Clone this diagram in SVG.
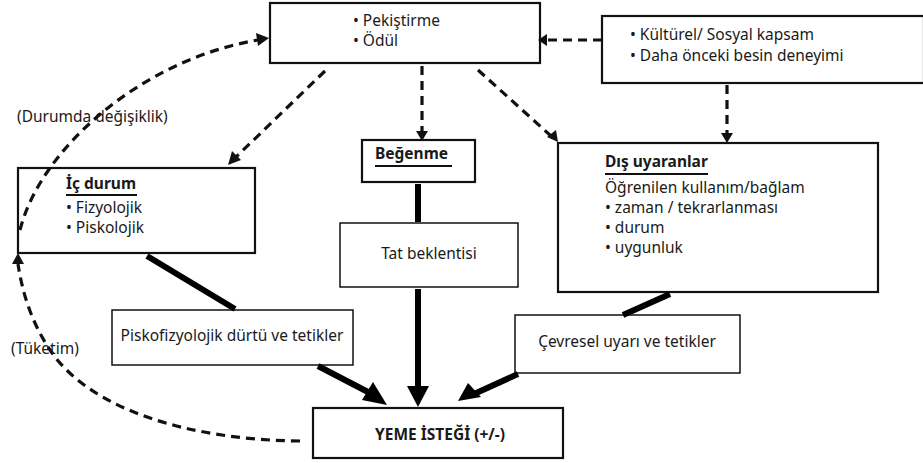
<svg xmlns="http://www.w3.org/2000/svg" width="923" height="463" viewBox="0 0 923 463">
<style>
.box{fill:#fff;stroke:#111;stroke-width:2.2}
.t{font-family:"Noto Sans","Open Sans",sans-serif;font-size:15.5px;fill:#1a1a1a}
.b{font-weight:bold}
.dash{fill:none;stroke:#111;stroke-width:3.2;stroke-dasharray:9,6}
.thick{fill:none;stroke:#000;stroke-width:6}
</style>
<rect width="923" height="463" fill="#fff"/>
<g id="n-top">
<rect class="box" x="270" y="3" width="270" height="60"/>
<text class="t" x="353" y="26">• Pekiştirme</text>
<text class="t" x="353" y="46">• Ödül</text>
</g>
<g id="n-kultur">
<rect class="box" x="602" y="16" width="322" height="67"/>
<text class="t" x="630" y="40">• Kültürel/ Sosyal kapsam</text>
<text class="t" x="630" y="61">• Daha önceki besin deneyimi</text>
</g>
<g id="n-icdurum">
<rect class="box" x="18" y="168" width="237" height="85"/>
<text class="t b" x="66" y="189">İç durum</text>
<line x1="66" y1="195" x2="137" y2="195" stroke="#111" stroke-width="2"/>
<text class="t" x="66" y="213">• Fizyolojik</text>
<text class="t" x="66" y="233">• Piskolojik</text>
</g>
<g id="n-begenme">
<rect class="box" x="362" y="140" width="113" height="42"/>
<text class="t b" x="375" y="159">Beğenme</text>
<line x1="375" y1="166" x2="452" y2="166" stroke="#111" stroke-width="2"/>
</g>
<g id="n-tat">
<rect class="box" x="340" y="223" width="178" height="64" style="stroke-width:1.5"/>
<text class="t" x="429" y="259" text-anchor="middle">Tat beklentisi</text>
</g>
<g id="n-dis">
<rect class="box" x="558" y="143" width="320" height="149"/>
<text class="t b" x="605" y="167">Dış uyaranlar</text>
<line x1="605" y1="174" x2="708" y2="174" stroke="#111" stroke-width="2"/>
<text class="t" x="605" y="193">Öğrenilen kullanım/bağlam</text>
<text class="t" x="605" y="213">• zaman / tekrarlanması</text>
<text class="t" x="605" y="233">• durum</text>
<text class="t" x="605" y="253">• uygunluk</text>
</g>
<g id="n-psiko">
<rect class="box" x="112" y="310" width="241" height="55" style="stroke-width:1.5"/>
<text class="t" x="232" y="341" text-anchor="middle">Piskofizyolojik dürtü ve tetikler</text>
</g>
<g id="n-cevre">
<rect class="box" x="515" y="315" width="225" height="58" style="stroke-width:1.5"/>
<text class="t" x="627" y="347" text-anchor="middle">Çevresel uyarı ve tetikler</text>
</g>
<g id="n-yeme">
<rect class="box" x="313" y="408" width="250" height="50"/>
<text class="t b" x="440" y="440" text-anchor="middle" style="font-size:15.5px">YEME İSTEĞİ (+/-)</text>
</g>
<g id="labels">
<text class="t" x="17" y="122">(Durumda değişiklik)</text>
<text class="t" x="11" y="354">(Tüketim)</text>
</g>
<g id="connectors">
<path class="dash" d="M602,40 L546,40"/>
<path class="dash" d="M727,85 L727,136"/>
<path class="dash" d="M422,66 L422,134"/>
<path class="dash" d="M478,70 L551,136"/>
<path class="dash" d="M325,71 L236,157"/>
<path class="dash" d="M20,230 C40,150 140,60 258,40"/>
<path class="dash" d="M300,441 C190,440 90,410 50,350 C30,320 22,290 18,264"/>
<path class="thick" d="M418,184 L418,222"/>
<path class="thick" d="M418,289 L418,390"/>
<path class="thick" d="M147,256 L235,309"/>
<path class="thick" d="M318,366 L368,392"/>
<path class="thick" d="M670,294 L623,315"/>
<path class="thick" d="M518,374 L474,394"/>
<polygon points="407,386 429,386 418,407" fill="#000"/>
<polygon points="362,400 373,382 387,405" fill="#000"/>
<polygon points="458,401 468,383 481,397" fill="#000"/>
<polygon points="547,34 547,46 538,40" fill="#111"/>
<polygon points="721,133 733,133 727,143" fill="#111"/>
<polygon points="416,131 428,131 422,141" fill="#111"/>
<polygon points="547,137 556,130 558,142" fill="#111"/>
<polygon points="232,151 241,160 228,165" fill="#111"/>
<polygon points="256,33 258,46 269,38" fill="#111"/>
<polygon points="12,264 24,264 18,253" fill="#111"/>
</g>
</svg>
